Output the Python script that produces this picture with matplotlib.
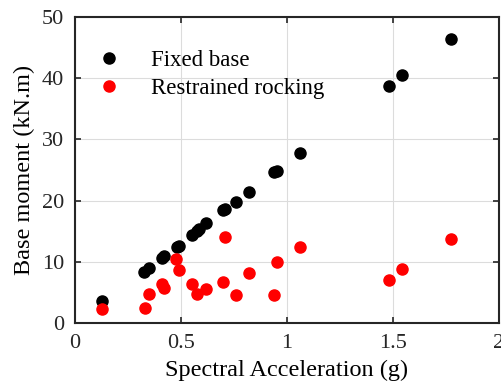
import matplotlib
matplotlib.use('Agg')
import matplotlib.pyplot as plt
import numpy as np

plt.rcParams['font.family'] = ['Liberation Serif', 'DejaVu Serif']

# Spectral acceleration (g) and base moment (kN.m)
fixed_sa = [0.126, 0.327, 0.349, 0.409, 0.421, 0.480, 0.489, 0.550, 0.574, 0.585,
            0.618, 0.697, 0.709, 0.759, 0.822, 0.940, 0.951, 1.060, 1.483, 1.541, 1.772]
fixed_m = [3.6, 8.4, 9.0, 10.7, 11.0, 12.4, 12.6, 14.4, 15.0, 15.3,
           16.4, 18.5, 18.7, 19.7, 21.4, 24.7, 24.9, 27.8, 38.8, 40.5, 46.4]

rock_sa = [0.126, 0.329, 0.347, 0.409, 0.420, 0.478, 0.489, 0.550, 0.577, 0.618,
           0.698, 0.709, 0.759, 0.820, 0.939, 0.951, 1.060, 1.483, 1.541, 1.772]
rock_m = [2.3, 2.4, 4.7, 6.4, 5.8, 10.5, 8.6, 6.3, 4.7, 5.6,
          6.7, 14.0, 4.5, 8.2, 4.5, 9.9, 12.4, 7.0, 8.8, 13.7]

fig = plt.figure(figsize=(5.01, 3.89), dpi=100)
ax = fig.add_axes([75/501, 1-323/389, (499-75)/501, (323-17)/389])

ax.plot(fixed_sa, fixed_m, 'o', color='black', markersize=8, label='Fixed base', zorder=3)
ax.plot(rock_sa, rock_m, 'o', color='red', markersize=8, label='Restrained rocking', zorder=3)

ax.set_xlim(0, 2)
ax.set_ylim(0, 50)
ax.set_xticks([0, 0.5, 1, 1.5, 2])
ax.set_xticklabels(['0', '0.5', '1', '1.5', '2'])
ax.set_yticks(np.arange(0, 51, 10))
ax.grid(True, color='#dcdcdc', lw=0.8)
ax.set_axisbelow(True)
ax.tick_params(direction='in', top=True, right=True, labelsize=16, length=4, width=1.2,
               colors='#262626', pad=8)
for s in ax.spines.values():
    s.set_linewidth(1.5)
    s.set_color('#262626')

ax.set_xlabel('Spectral Acceleration (g)', fontsize=17.5, labelpad=5)
ax.set_ylabel('Base moment (kN.m)', fontsize=17.5, labelpad=5)

ax.legend(loc='upper left', frameon=False, fontsize=16.5, handletextpad=0.86,
          borderaxespad=0.3, labelspacing=0.3, bbox_to_anchor=(-0.012, 0.944))

plt.savefig('out.png', dpi=100)
plt.close()
